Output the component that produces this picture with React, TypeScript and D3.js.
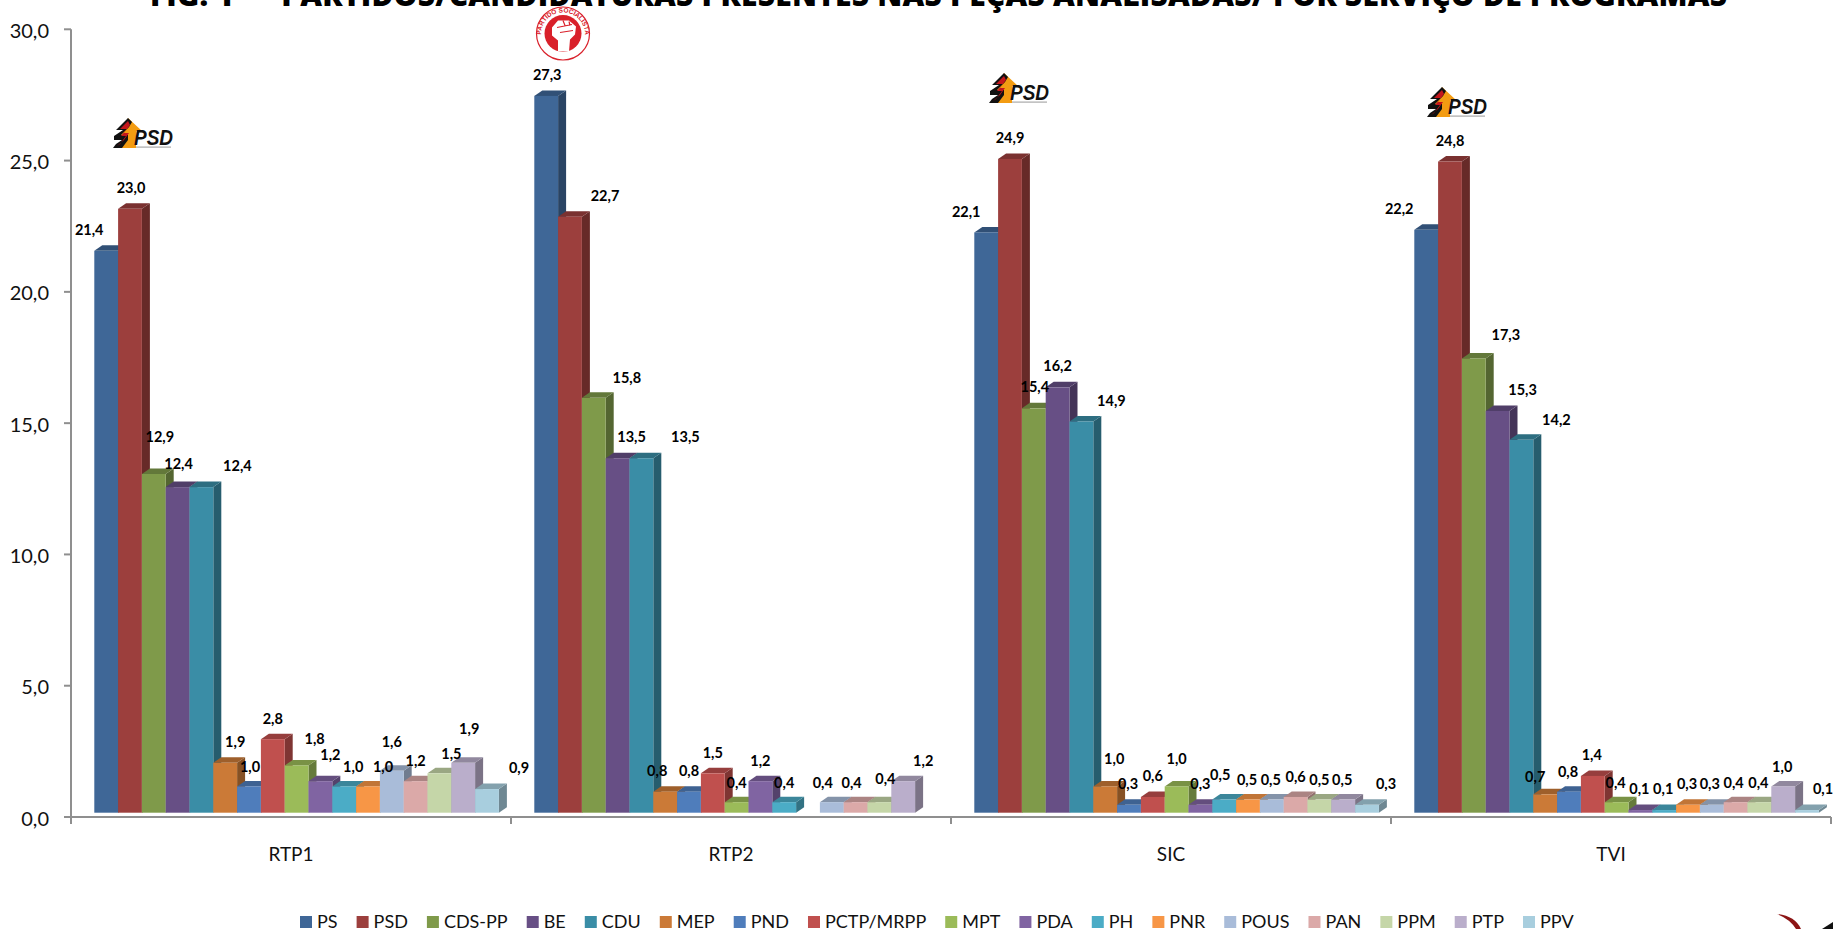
import React, { useMemo } from "react";
import * as d3 from "d3";

const WIDTH = 1833;
const HEIGHT = 929;
const FONT = "Lato, sans-serif";

const title = "FIG. 1  –  PARTIDOS/CANDIDATURAS PRESENTES NAS PEÇAS ANALISADAS/ POR SERVIÇO DE PROGRAMAS";
const channels = ["RTP1", "RTP2", "SIC", "TVI"];
const parties = ["PS", "PSD", "CDS-PP", "BE", "CDU", "MEP", "PND", "PCTP/MRPP", "MPT", "PDA", "PH", "PNR", "POUS", "PAN", "PPM", "PTP", "PPV"];
const partyColors = ["#3f6797", "#9c3f3d", "#7f9a4a", "#674f85", "#3a8da6", "#cb7a37", "#4f7dbb", "#c0504e", "#9bbb59", "#8064a2", "#4bacc6", "#f79646", "#a9bcd9", "#dba9a8", "#c5d6a8", "#baaecb", "#a8cede"];
const yTicks = [0, 5, 10, 15, 20, 25, 30];

const rtp1Values = [21.4, 23.0, 12.9, 12.4, 12.4, 1.9, 1.0, 2.8, 1.8, 1.2, 1.0, 1.0, 1.6, 1.2, 1.5, 1.9, 0.9];
const rtp2Values = [27.3, 22.7, 15.8, 13.5, 13.5, 0.8, 0.8, 1.5, 0.4, 1.2, 0.4, null, 0.4, 0.4, 0.4, 1.2, null];
const sicValues = [22.1, 24.9, 15.4, 16.2, 14.9, 1.0, 0.3, 0.6, 1.0, 0.3, 0.5, 0.5, 0.5, 0.6, 0.5, 0.5, 0.3];
const tviValues = [22.2, 24.8, 17.3, 15.3, 14.2, 0.7, 0.8, 1.4, 0.4, 0.1, 0.1, 0.3, 0.3, 0.4, 0.4, 1.0, 0.1];
const channelValues = [rtp1Values, rtp2Values, sicValues, tviValues];

// hand-placed data-label nudges, relative to the top centre of each bar
const rtp1Nudge = [[-17, -21], [1, -21], [6, -37], [1, -23], [36, -21], [10, -21], [1, -19], [0, -20], [18, -26], [10, -26], [9, -19], [15, -19], [0, -29], [0, -20], [12, -19], [6, -34], [32, -21]];
const rtp2Nudge = [[1, -21], [35, -21], [33, -20], [14, -21], [44, -21], [-8, -21], [0, -21], [0, -20], [0, -19], [0, -20], [0, -19], [0, 0], [-9, -19], [-4, -19], [6, -23], [20, -20], [0, 0]];
const sicNudge = [[-20, -20], [0, -21], [1, -21], [0, -21], [30, -20], [9, -27], [-1, -21], [0, -21], [0, -27], [0, -21], [-4, -25], [-1, -20], [-1, -20], [0, -20], [0, -20], [-1, -20], [19, -21]];
const tviNudge = [[-27, -21], [0, -21], [32, -23], [25, -21], [35, -20], [-10, -17], [-1, -20], [-1, -21], [-1, -19], [-1, -21], [-1, -21], [-1, -21], [-2, -21], [-2, -19], [-1, -19], [-1, -19], [16, -21]];
const channelNudges = [rtp1Nudge, rtp2Nudge, sicNudge, tviNudge];

const M = { left: 71, right: 1831, top: 29.3, bottom: 817 };
const DEPTH_X = 8;
const DEPTH_Y = 5.5;
const FLOOR_LIFT = 4.3;
const BAR_PAD = 23.3;
const BAR_W = 23.8;

const y = d3.scaleLinear().domain([0, 30]).range([M.bottom, M.top]);
const x0 = d3.scaleBand().domain(channels).range([M.left, M.right]);
const x1 = d3.scaleBand().domain(parties).range([BAR_PAD, BAR_PAD + BAR_W * parties.length]);
const fmt = (v: number) => v.toFixed(1).replace(".", ",");

function shade(c: string, k: number) {
  const r = d3.rgb(c);
  return d3.rgb(r.r * k, r.g * k, r.b * k).formatHex();
}

function Bar({ cx, v, color }: { cx: number; v: number; color: string }) {
  const x = cx - BAR_W / 2;
  const bottom = y(0) - FLOOR_LIFT;
  const top = y(v) - FLOOR_LIFT;
  const r = x + BAR_W;
  const side = `${r},${top} ${r + DEPTH_X},${top - DEPTH_Y} ${r + DEPTH_X},${bottom - DEPTH_Y} ${r},${bottom}`;
  const cap = `${x},${top} ${x + DEPTH_X},${top - DEPTH_Y} ${r + DEPTH_X},${top - DEPTH_Y} ${r},${top}`;
  return (
    <g>
      <polygon points={side} fill={shade(color, 0.66)} />
      <polygon points={cap} fill={shade(color, 0.78)} />
      <rect x={x} y={top} width={BAR_W} height={bottom - top} fill={color} />
    </g>
  );
}

function PsdLogo({ x, y: ty }: { x: number; y: number }) {
  return (
    <g transform={`translate(${x},${ty})`}>
      <polygon points="15,0 29,13 23,13 23,30 8,30 14,20 6,20 12,10" fill="#f39c12" />
      <polygon points="15,0 3,12 10,12 1,18 1,22 9,22 3,26 0,30 9,30 15,22 15,17 8,17 16,9 19,4" fill="#111" />
      <polygon points="15,3 7,11 14,11 8,18 13,18 7,26 4,28 11,22 16,15 11,15 17,7" fill="#c4161c" />
      <text x="21" y="27" fontFamily="'Liberation Sans', sans-serif" fontWeight="700" fontStyle="italic" fontSize="22" textLength="39" lengthAdjust="spacingAndGlyphs" fill="#111">PSD</text>
      <rect x="23" y="28.5" width="35" height="1.2" fill="#aaa" />
    </g>
  );
}

function PsLogo({ cx, cy }: { cx: number; cy: number }) {
  const red = "#d9202a";
  return (
    <g transform={`translate(${cx},${cy})`}>
      <circle r="26.5" fill="#fff" stroke={red} strokeWidth="1.2" />
      <circle r="18.5" fill={red} />
      <path id="psArc" d="M -19 12 A 22 22 0 1 1 19 12" fill="none" />
      <text fontFamily="'Liberation Sans', sans-serif" fontWeight="700" fontSize="6.5" fill={red}>
        <textPath href="#psArc" startOffset="50%" textAnchor="middle">PARTIDO SOCIALISTA</textPath>
      </text>
      <path d="M -11 -6 L -5 -13 L 6 -13 L 13 -7 L 12 1 L 7 6 L 6 18 L -5 18 L -5 7 L -11 2 Z" fill="#fff" />
      <path d="M -6 -6 L 9 -9 M -3 -1 L 10 -3 M 0 -13 L 2 -8 M 6 -12 L 7 -8" stroke={red} strokeWidth="1.2" />
    </g>
  );
}

const logoPlacements = [
  { channel: 0, x: 113, y: 118 },
  { channel: 2, x: 989, y: 73 },
  { channel: 3, x: 1427, y: 87 },
];

const SW = 12;
const TEXT_GAP = 5;
const LEGEND_START = 300;
const LEGEND_END = 1523;
const LEGEND_FONT = 18;

export default function App() {
  const legendX = useMemo(() => {
    const ctx = document.createElement("canvas").getContext("2d")!;
    ctx.font = `${LEGEND_FONT}px Lato`;
    const w = parties.map((p) => ctx.measureText(p).width + SW + TEXT_GAP);
    const total = d3.sum(w.slice(0, -1));
    const gap = (LEGEND_END - LEGEND_START - total) / (parties.length - 1);
    let cur = LEGEND_START;
    return w.map((v) => {
      const at = cur;
      cur += v + gap;
      return at;
    });
  }, []);

  return (
    <svg width={WIDTH} height={HEIGHT} viewBox={`0 0 ${WIDTH} ${HEIGHT}`} style={{ position: "absolute", left: 0, top: 0, background: "#fff" }}>
      <text x={150} y={6} fontFamily="'Open Sans', sans-serif" fontWeight="800" fontSize="30" textLength={1577} lengthAdjust="spacing" fill="#000" xmlSpace="preserve">{title}</text>

      {channelValues.map((vals, g) => (
        <g key={channels[g]} transform={`translate(${x0(channels[g])},0)`}>
          {vals.map((v, i) =>
            v == null ? null : <Bar key={parties[i]} cx={x1(parties[i])! + x1.bandwidth() / 2} v={v} color={partyColors[i]} />
          )}
        </g>
      ))}

      <g stroke="#8f8f8f" strokeWidth="2" fill="none">
        <line x1={M.left} x2={M.left} y1={M.top} y2={M.bottom} />
        <line x1={M.left} x2={M.right} y1={M.bottom} y2={M.bottom} />
        {yTicks.map((t) => <line key={t} x1={M.left - 7} x2={M.left} y1={y(t)} y2={y(t)} />)}
        {[...channels.map((c) => x0(c)!), M.right].map((t) => <line key={t} x1={t} x2={t} y1={M.bottom} y2={M.bottom + 7} />)}
      </g>

      {yTicks.map((t) => (
        <text key={t} x={49} y={y(t) + 8.5} textAnchor="end" fontFamily={FONT} fontSize="20" fill="#111">{fmt(t)}</text>
      ))}
      {channels.map((c) => (
        <text key={c} x={x0(c)! + x0.bandwidth() / 2} y={861} textAnchor="middle" fontFamily={FONT} fontSize="19" fill="#111">{c}</text>
      ))}

      {channelValues.map((vals, g) => (
        <g key={channels[g]} transform={`translate(${x0(channels[g])},0)`} fontFamily={FONT} fontWeight="700" fontSize="14.5" fill="#000" textAnchor="middle">
          {vals.map((v, i) =>
            v == null ? null : (
              <text
                key={parties[i]}
                x={x1(parties[i])! + x1.bandwidth() / 2 + channelNudges[g][i][0]}
                y={y(v) - FLOOR_LIFT + channelNudges[g][i][1] + 5}
              >
                {fmt(v)}
              </text>
            )
          )}
        </g>
      ))}

      {logoPlacements.map((l) => <PsdLogo key={l.channel} x={l.x} y={l.y} />)}
      <PsLogo cx={563} cy={33.5} />

      {parties.map((p, i) => (
        <g key={p}>
          <rect x={legendX[i]} y={916} width={SW} height={SW} fill={partyColors[i]} />
          <text x={legendX[i] + SW + TEXT_GAP} y={928} fontFamily={FONT} fontSize={LEGEND_FONT} fill="#111">{p}</text>
        </g>
      ))}

      <path d="M 1777 914 Q 1795 916 1801 929 L 1796 929 Q 1790 919 1777 914 Z" fill="#8c1515" />
      <path d="M 1822 929 L 1833 922 L 1833 929 Z" fill="#111" />
    </svg>
  );
}
